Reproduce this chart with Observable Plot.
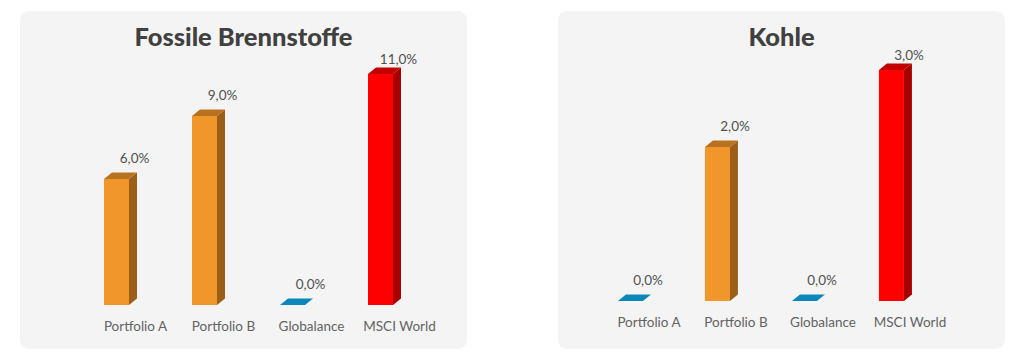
<!DOCTYPE html>
<html>
<head>
<meta charset="utf-8">
<script src="https://cdn.jsdelivr.net/npm/d3@7"></script>
<script src="https://cdn.jsdelivr.net/npm/@observablehq/plot@0.6"></script>
<style>
  html, body { margin: 0; padding: 0; background: #ffffff; }
  body { width: 1024px; height: 361px; position: relative; overflow: hidden; font-family: Lato, "Open Sans", sans-serif; }
  .panel { position: absolute; top: 11px; width: 447px; height: 338px; background: #f4f4f4; border-radius: 9px; }
  .panel svg { position: absolute; left: 0; top: 0; }
  .ptitle { position: absolute; left: 0; top: 11px; width: 100%; text-align: center; font-family: Lato, sans-serif; font-weight: 900; font-size: 25.5px; line-height: 28px; color: #404040; pointer-events: none; }
</style>
</head>
<body>
<script>
// ---- data ----
const categories = ["Portfolio A", "Portfolio B", "Globalance", "MSCI World"];
const fossilValues = [6.0, 9.0, 0.0, 11.0];
const kohleValues = [0.0, 2.0, 0.0, 3.0];
const panelTitles = ["Fossile Brennstoffe", "Kohle"];

// ---- styles ----
const palette = {
  orange: {front: "#f1962a", side: "#9b5f19", top: "#b8721f"},
  red: {front: "#ff0000", side: "#a60000", top: "#c20000"},
  blue: {front: "#0b87b9", side: "#0a6f98", top: "#0b87b9"}
};
function colorFor(d) {
  if (d.value === 0) return palette.blue;
  if (d.cat === "MSCI World") return palette.red;
  return palette.orange;
}
const deLocale = d3.formatLocale({decimal: ",", thousands: ".", grouping: [3], currency: ["", " €"]});
const fmt = v => deLocale.format(".1f")(v) + "%";

function cubeMark(data) {
  return Plot.barY(data, {
    x: "cat", y: "value",
    render(index, scales, values, dimensions) {
      const g = d3.create("svg:g");
      const n = categories.length;
      const bw = (dimensions.width - dimensions.marginLeft - dimensions.marginRight) / n;
      const dx = 8, dy = 6.5;
      for (const i of index) {
        const d = data[i];
        const c = colorFor(d);
        const cx = scales.x(d.cat) + bw / 2;
        const L = cx - 31, R = cx - 6;
        const B = scales.y(0), T = scales.y(d.value);
        if (T < B) {
          g.append("polygon")
            .attr("points", [[L, B], [R, B], [R, T], [L, T]].join(" "))
            .attr("fill", c.front);
          g.append("polygon")
            .attr("points", [[R, B], [R, T], [R + dx, T - dy], [R + dx, B - dy]].join(" "))
            .attr("fill", c.side);
        }
        g.append("polygon")
          .attr("points", [[L, T], [R, T], [R + dx, T - dy], [L + dx, T - dy]].join(" "))
          .attr("fill", c.top);
      }
      return g.node();
    }
  });
}

function makePanel(values, title, left, m) {
  const data = categories.map((cat, i) => ({cat, value: values[i]}));
  const maxV = d3.max(values);
  const div = document.createElement("div");
  div.className = "panel";
  div.style.left = left + "px";
  const plot = Plot.plot({
    width: 447,
    height: 338,
    marginLeft: m.l, marginRight: m.r, marginTop: m.t, marginBottom: m.b,
    style: {background: "transparent", fontFamily: "Lato, sans-serif"},
    x: {domain: categories, padding: 0, label: null},
    y: {domain: [0, maxV], axis: null},
    marks: [
      Plot.axisX({tickSize: 0, tickPadding: 16, fontSize: 13.5, color: "#636363", label: null}),
      cubeMark(data),
      Plot.text(data.filter(d => d.value !== maxV), {
        x: "cat", y: "value", text: d => fmt(d.value),
        dy: -21, dx: -1, fontSize: 13.5, fill: "#505050"
      }),
      Plot.text(data.filter(d => d.value === maxV), {
        x: "cat", y: "value", text: d => fmt(d.value),
        dy: -15, dx: -1, fontSize: 13.5, fill: "#505050"
      })
    ]
  });
  div.appendChild(plot);
  const t = document.createElement("div");
  t.className = "ptitle";
  t.textContent = title;
  div.appendChild(t);
  document.body.appendChild(div);
}

makePanel(fossilValues, panelTitles[0], 20, {l: 70.5, r: 24.5, t: 63, b: 44});
makePanel(kohleValues, panelTitles[1], 558, {l: 45, r: 50.5, t: 59, b: 48});
</script>
</body>
</html>
